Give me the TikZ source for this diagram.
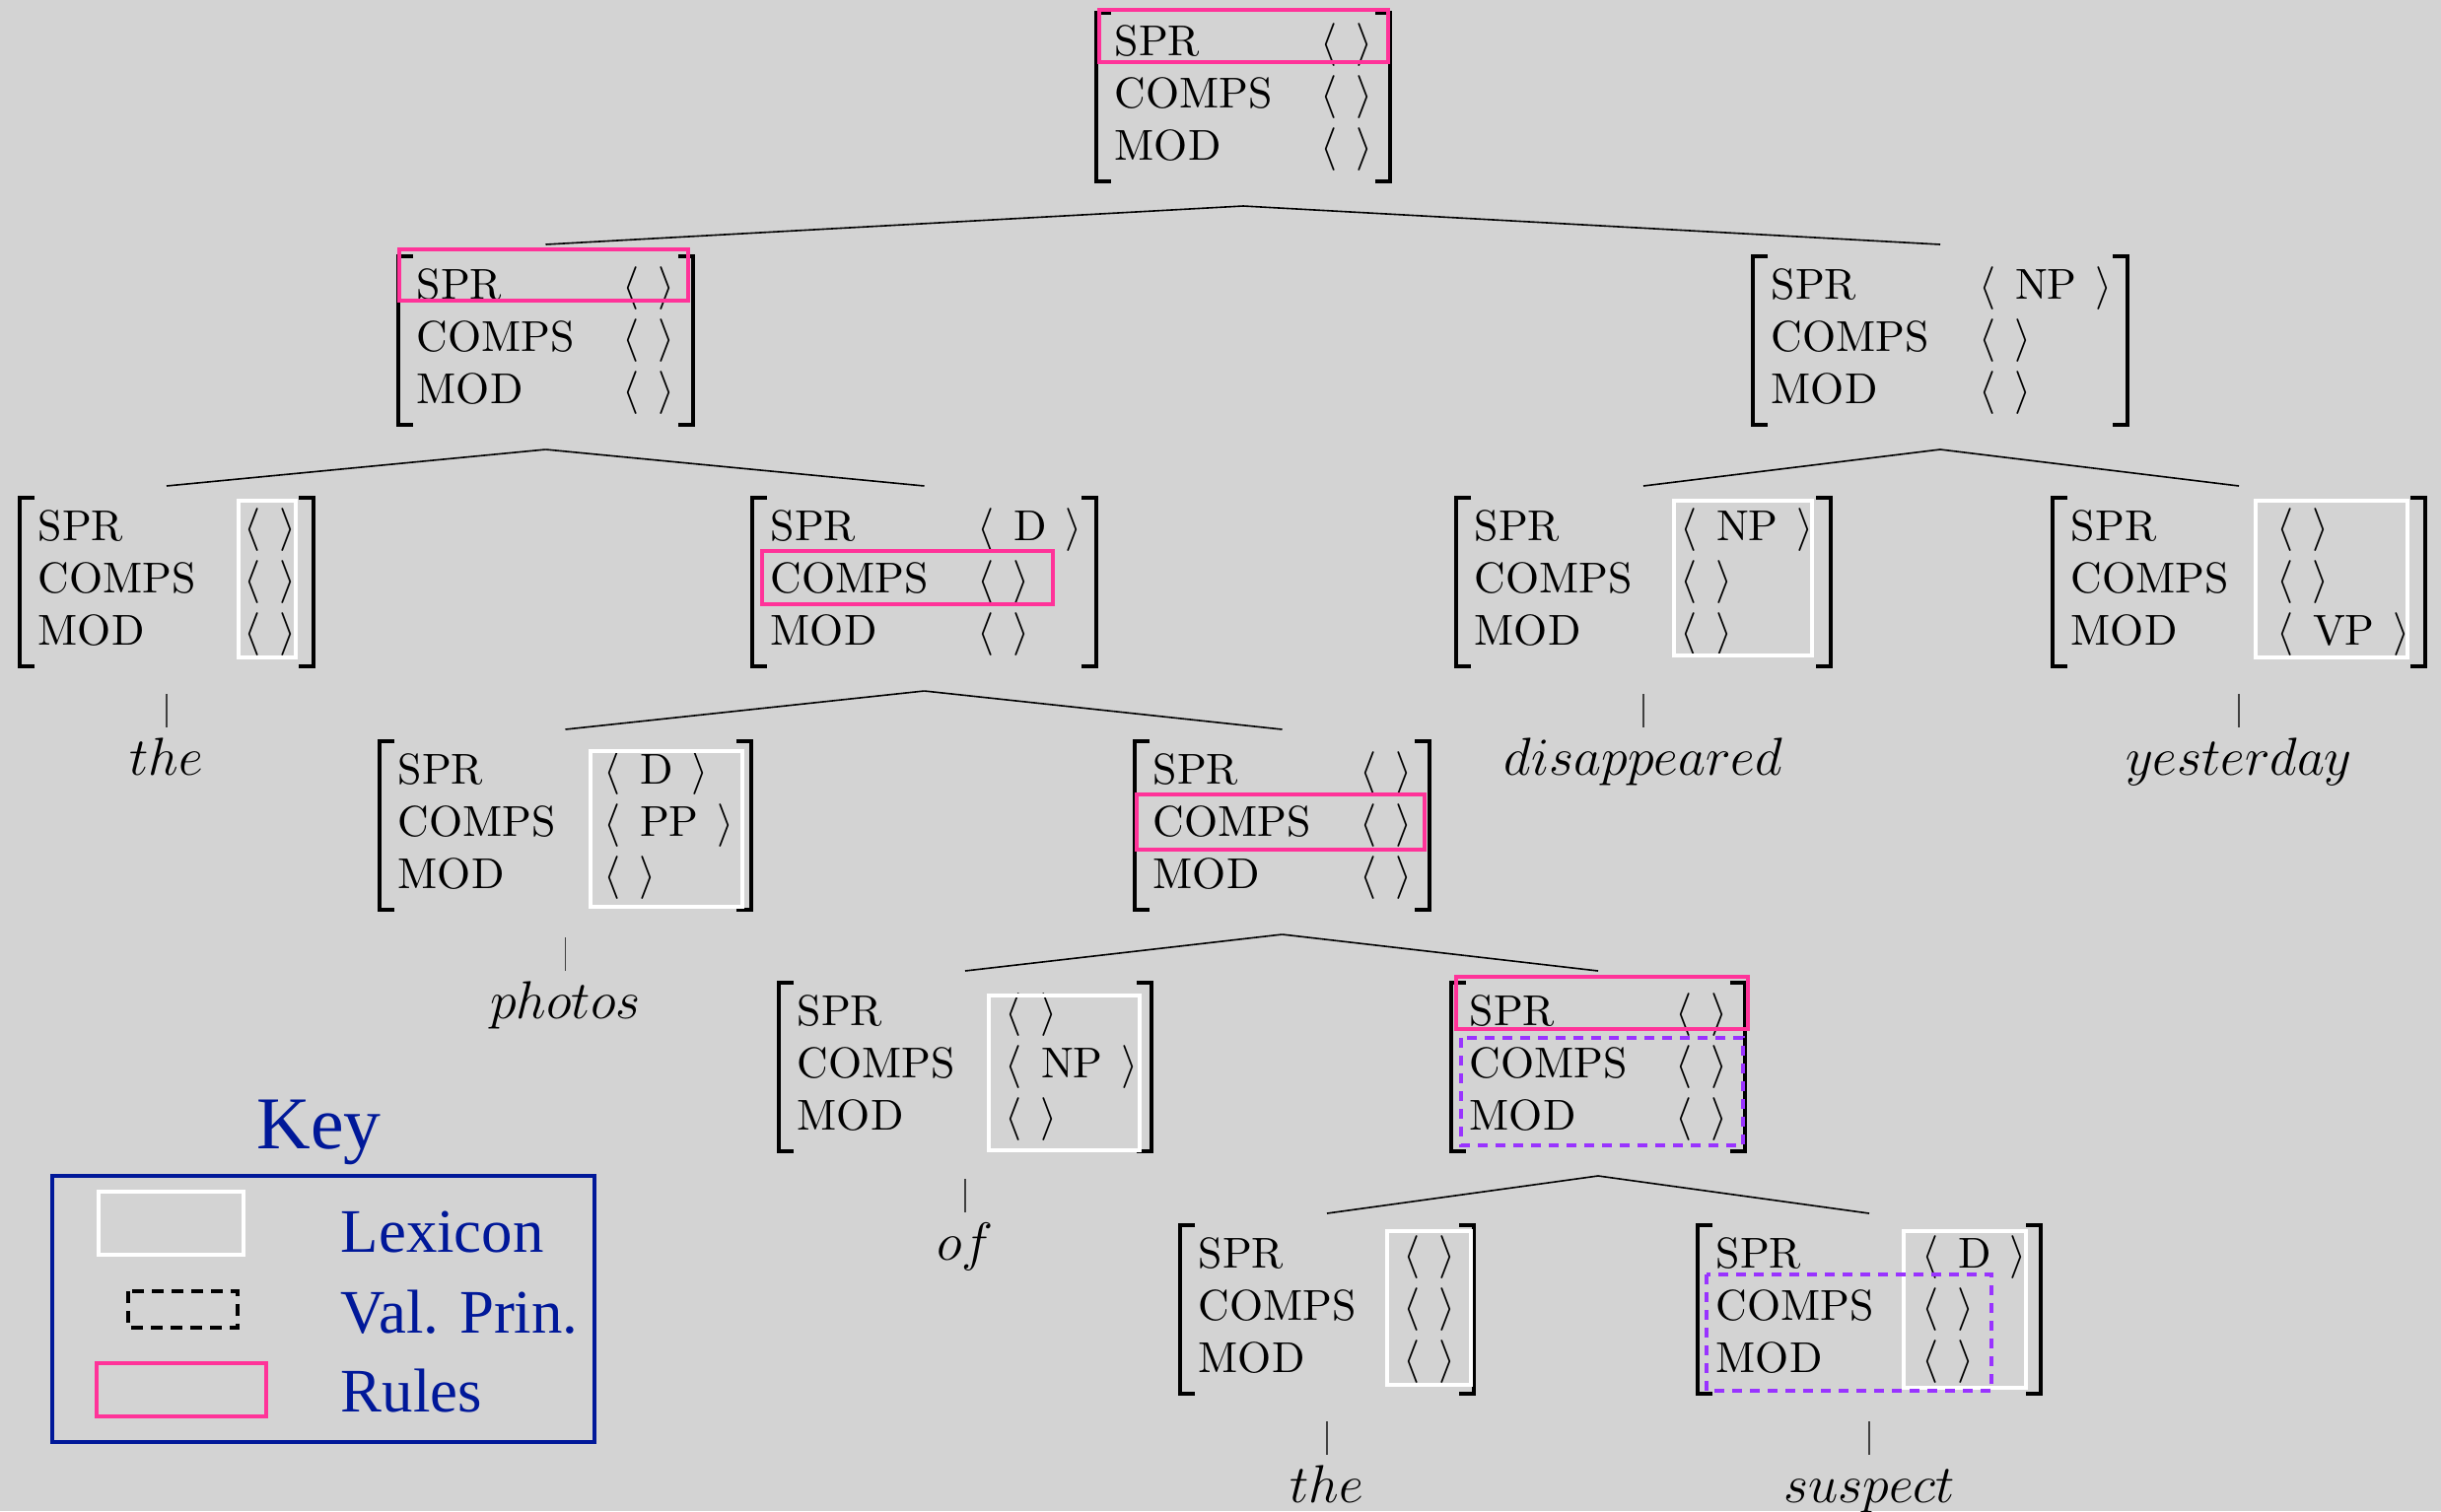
\documentclass[tikz,border=0pt]{standalone}
\usepackage{graphicx}
\usepackage{fontspec}
\newfontfamily\keyfont{Liberation Serif}
\definecolor{bg}{RGB}{211,211,211}
\definecolor{rulepink}{RGB}{255,51,153}
\definecolor{valpurple}{RGB}{153,51,255}
\definecolor{keyblue}{RGB}{0,24,153}
\newcommand\emptyl{$\langle\hspace{4.6pt}\rangle$}
\newcommand\vl[1]{$\langle$\hspace{4.8pt}#1\hspace{4.8pt}$\rangle$}
\newcommand\treeword[1]{\scalebox{1.13}{$#1$}}
% name, xl, xr, ytop, xval, v1, v2, v3
\newcommand\avm[8]{%
  \node[avmframe, minimum width={(#3-#2)*0.25pt}] (#1) at ({(#2+#3)/2},{#4+85.5}) {};
  \draw[brk] ([xshift=3.75pt]#1.north west) -- (#1.north west) -- (#1.south west) -- ([xshift=3.75pt]#1.south west);
  \draw[brk] ([xshift=-3.75pt]#1.north east) -- (#1.north east) -- (#1.south east) -- ([xshift=-3.75pt]#1.south east);
  \node[feat] (#1-f1) at ({#2+18},{#4+43}) {SPR};
  \node[feat] (#1-f2) at ({#2+18},{#4+96}) {COMPS};
  \node[feat] (#1-f3) at ({#2+18},{#4+149}) {MOD};
  \node[feat] (#1-v1) at ({#5-6},{#4+43}) {#6};
  \node[feat] (#1-v2) at ({#5-6},{#4+96}) {#7};
  \node[feat] (#1-v3) at ({#5-6},{#4+149}) {#8};
}
\begin{document}
\begin{tikzpicture}[x=0.25pt, y=-0.25pt,
  avmframe/.style={rectangle, inner sep=0pt, outer sep=0pt, minimum height=42.75pt},
  brk/.style={line width=0.8pt, line join=miter},
  feat/.style={anchor=base west, inner sep=0pt, font=\fontsize{10.95}{13.6}\selectfont},
  edge/.style={line width=0.4pt},
  unary/.style={line width=0.4pt, black!75},
  word/.style={anchor=base, inner sep=0pt, text height=11.75pt, font=\fontsize{12}{14}\selectfont},
  lexbox/.style={draw=white, line width=1pt},
  rulebox/.style={draw=rulepink, line width=1pt},
  valbox/.style={draw=valpurple, line width=1pt, dash pattern=on 2.5pt off 2pt},
  keytext/.style={anchor=base west, inner sep=0pt, text=keyblue, font=\keyfont\fontsize{15.7}{18}\selectfont}
]
\fill[bg] (0,0) rectangle (2476,1533);
\useasboundingbox (0,0) rectangle (2476,1533);

% AVMs
\avm{root}{1112}{1410}{13}{1345}{\emptyl}{\emptyl}{\emptyl}
\avm{lone}{404}{703}{260}{637}{\emptyl}{\emptyl}{\emptyl}
\avm{rone}{1778}{2158}{260}{2013}{\vl{NP}}{\emptyl}{\emptyl}
\avm{a}{20}{318}{505}{253}{\emptyl}{\emptyl}{\emptyl}
\avm{b}{763}{1112}{505}{997}{\vl{D}}{\emptyl}{\emptyl}
\avm{c}{1477}{1857}{505}{1710}{\vl{NP}}{\emptyl}{\emptyl}
\avm{d}{2082}{2460}{505}{2315}{\emptyl}{\emptyl}{\vl{VP}}
\avm{e}{385}{762}{752}{618}{\vl{D}}{\vl{PP}}{\emptyl}
\avm{f}{1151}{1450}{752}{1385}{\emptyl}{\emptyl}{\emptyl}
\avm{g}{790}{1168}{997}{1025}{\emptyl}{\vl{NP}}{\emptyl}
\avm{h}{1472}{1770}{997}{1705}{\emptyl}{\emptyl}{\emptyl}
\avm{i}{1197}{1495}{1243}{1429}{\emptyl}{\emptyl}{\emptyl}
\avm{j}{1722}{2070}{1243}{1955}{\vl{D}}{\emptyl}{\emptyl}

% words
\node[word] (wthe) at (169,786) {\treeword{the}};
\node[word] (wdis) at (1667,786) {\treeword{disappeared}};
\node[word] (wyes) at (2271,786) {\treeword{yesterday}};
\node[word] (wpho) at (573.5,1033) {\treeword{photos}};
\node[word] (wof) at (979,1278) {\treeword{of}};
\node[word] (wthe2) at (1346,1524) {\treeword{the}};
\node[word] (wsus) at (1896,1524) {\treeword{suspect}};

% branches
\foreach \p/\c in {root/lone, root/rone, lone/a, lone/b, rone/c, rone/d, b/e, b/f, f/g, f/h, h/i, h/j}
  \draw[edge] ([yshift=-6.25pt]\p.south) -- ([yshift=3pt]\c.north);
\foreach \p/\w in {a/wthe, c/wdis, d/wyes, e/wpho, g/wof, i/wthe2, j/wsus}
  \draw[unary] ([yshift=-7pt]\p.south) -- (\w.north);

% highlight boxes
\draw[rulebox] (1115,10) rectangle (1408,63);
\draw[rulebox] (405,253) rectangle (698,305);
\draw[lexbox] (242,508) rectangle (300,667);
\draw[rulebox] (773,559) rectangle (1068,613);
\draw[lexbox] (1698,508) rectangle (1838,665);
\draw[lexbox] (2288,508) rectangle (2442,667);
\draw[lexbox] (599,762) rectangle (753,920);
\draw[rulebox] (1153,806) rectangle (1445,862);
\draw[lexbox] (1003,1010) rectangle (1156,1167);
\draw[rulebox] (1477,991) rectangle (1773,1044);
\draw[valbox] (1482,1053) rectangle (1768,1162);
\draw[lexbox] (1407,1249) rectangle (1492,1405);
\draw[lexbox] (1931,1249) rectangle (2055,1408);
\draw[valbox] (1731,1293) rectangle (2020,1411);

% key
\node[anchor=base, inner sep=0pt, text=keyblue, font=\keyfont\fontsize{18.9}{22}\selectfont] (keytitle) at (323.5,1165) {Key};
\draw[draw=keyblue, line width=1pt] (53,1193) rectangle (603,1463);
\draw[lexbox] (100,1209) rectangle (247,1273);
\draw[line width=1pt, dash pattern=on 3pt off 2pt] (130,1310) rectangle (241,1347);
\draw[rulebox] (98,1383) rectangle (270,1437);
\node[keytext] (klex) at (345,1270) {Lexicon};
\node[keytext] (kval) at (345,1352) {Val. Prin.};
\node[keytext] (krule) at (345,1432) {Rules};
\end{tikzpicture}
\end{document}
